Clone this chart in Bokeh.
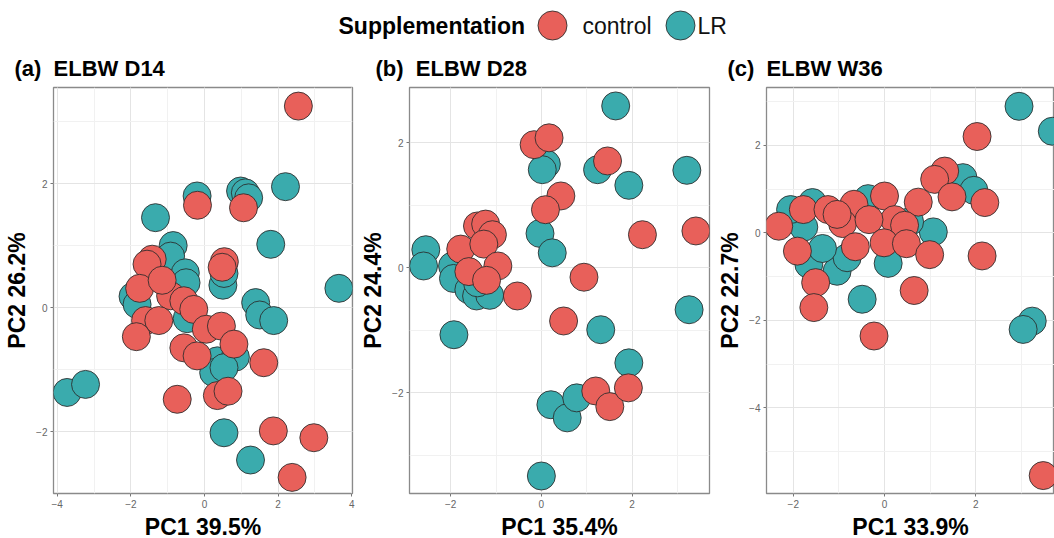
from bokeh.plotting import figure
from bokeh.layouts import column, row
from bokeh.models import Range1d, SingleIntervalTicker
from bokeh.embed import file_html
from bokeh.resources import INLINE
from bokeh.core.properties import value

FONT = "Liberation Sans"
RED = "#E8605A"
TEAL = "#3AABAD"

groups = ["control", "LR"]
group_colors = [RED, TEAL]

# ---- (a) ELBW D14 ----
d14_control_pc1 = [2.55, -0.19, 1.06, 0.54, 0.48, -1.42, -1.56, -1.76, -0.92, -1.15, -0.56, -0.29,
                   -1.60, -1.24, -1.85, 0.05, 0.46, 0.80, -0.56, -0.20, 1.61, -0.74, 0.35, 0.64,
                   1.87, 2.97, 2.38]
d14_control_pc2 = [3.25, 1.65, 1.61, 0.74, 0.65, 0.78, 0.70, 0.31, 0.19, 0.44, 0.11, -0.03,
                   -0.21, -0.21, -0.47, -0.35, -0.30, -0.59, -0.65, -0.78, -0.89, -1.48, -1.42, -1.35,
                   -1.99, -2.10, -2.74]
d14_lr_pc1 = [-0.20, -1.33, 0.98, 1.11, 1.20, 2.20, 1.80, 3.65, -0.85, -0.92, -0.52, -0.50,
              0.50, 0.53, 1.39, 1.50, 1.88, -1.94, -1.83, -0.47, 0.35, 0.25, 0.84, 0.53,
              -3.73, -3.23, 0.53, 1.25]
d14_lr_pc2 = [1.80, 1.45, 1.88, 1.85, 1.77, 1.95, 1.02, 0.31, 1.00, 0.83, 0.56, 0.40,
              0.36, 0.55, 0.08, -0.12, -0.21, 0.18, 0.05, -0.18, -0.86, -1.05, -0.80, -0.97,
              -1.37, -1.24, -2.02, -2.46]

# ---- (b) ELBW D28 ----
d28_control_pc1 = [-0.16, 0.17, 1.46, 0.43, 0.09, 2.23, 3.41, -1.41, -1.23, -1.08, -1.78, -1.27,
                   -1.60, -0.96, -1.21, -0.53, 0.94, 0.49, 1.20, 1.51, 1.92]
d28_control_pc2 = [1.97, 2.08, 1.71, 1.15, 0.93, 0.53, 0.59, 0.67, 0.70, 0.53, 0.30, 0.38,
                   -0.06, 0.03, -0.20, -0.45, -0.15, -0.85, -1.97, -2.22, -1.92]
d28_lr_pc1 = [1.64, 0.11, 0.02, 1.24, 1.93, 3.21, -0.03, 0.24, -2.55, -2.60, -1.96, -1.94,
              -1.60, -1.43, -1.14, -1.41, 3.26, -1.93, 1.31, 1.93, 0.21, 0.57, 0.78, 0.00]
d28_lr_pc2 = [2.59, 1.66, 1.57, 1.57, 1.32, 1.56, 0.55, 0.24, 0.29, 0.03, 0.03, -0.17,
              -0.35, -0.45, -0.44, -0.24, -0.67, -1.07, -0.99, -1.52, -2.19, -2.40, -2.08, -3.33]

# ---- (c) ELBW W36 ----
w36_control_pc1 = [2.03, 1.32, 1.10, 1.48, 2.20, 0.74, 0.00, 0.22, 0.44, -2.32, -1.78, -1.24,
                   -0.67, -0.92, -0.34, -1.04, -0.01, 0.48, -0.64, -1.91, 0.99, 2.14, -1.51, -1.55,
                   0.65, -0.23, 3.48]
w36_control_pc2 = [2.20, 1.41, 1.22, 0.82, 0.69, 0.70, 0.84, 0.30, 0.17, 0.15, 0.53, 0.53,
                   0.65, 0.21, 0.30, 0.42, -0.23, -0.25, -0.32, -0.42, -0.50, -0.53, -1.14, -1.71,
                   -1.32, -2.36, -5.55]
w36_lr_pc1 = [2.95, 3.68, 1.72, 1.96, 1.07, 0.08, -0.49, -1.04, -0.82, -1.66, -1.36, -1.77,
              -2.06, -1.58, -0.36, 0.55, 3.24, 3.04]
w36_lr_pc2 = [2.89, 2.32, 1.26, 0.97, 0.02, -0.70, -1.52, -0.88, -0.57, -0.72, -0.36, 0.13,
              0.53, 0.69, 0.78, 0.25, -2.02, -2.21]

tags = ["(a)", "(b)", "(c)"]
titles = ["ELBW D14", "ELBW D28", "ELBW W36"]
x_labels = ["PC1 39.5%", "PC1 35.4%", "PC1 33.9%"]
y_labels = ["PC2 26.2%", "PC2 24.4%", "PC2 22.7%"]
x_ranges = [(-4.10, 4.02), (-2.91, 3.71), (-2.588, 3.728)]
y_ranges = [(-3.00, 3.55), (-3.61, 2.885), (-5.96, 3.32)]
frame_widths = [299, 300, 288]
left_borders = [53, 52, 52]
right_borders = [5, 5, 0]
title_offsets = [-39, -34, -39]
NBSP = "\u00a0"


def make_panel(i, cx, cy, lx, ly):
    p = figure(frame_width=frame_widths[i], frame_height=406,
               x_range=Range1d(*x_ranges[i]), y_range=Range1d(*y_ranges[i]),
               output_backend="svg", toolbar_location=None,
               min_border_left=left_borders[i], min_border_right=right_borders[i],
               min_border_top=40, min_border_bottom=44)
    p.title.text = tags[i] + NBSP + NBSP + titles[i]
    p.title.text_font = FONT
    p.title.text_font_size = "22px"
    p.title.text_font_style = "bold"
    p.title.text_color = "black"
    p.title.offset = title_offsets[i]
    p.title.standoff = 13
    for ax in (p.xaxis[0], p.yaxis[0]):
        ax.ticker = SingleIntervalTicker(interval=2, num_minor_ticks=2)
        ax.axis_line_color = None
        ax.major_tick_in = 0
        ax.major_tick_out = 3
        ax.major_tick_line_color = "#777777"
        ax.minor_tick_line_color = None
        ax.major_label_text_font = FONT
        ax.major_label_text_font_size = "10px"
        ax.major_label_text_color = "#666666"
        ax.major_label_standoff = 2
        ax.axis_label_text_font = FONT
        ax.axis_label_text_font_size = "23px"
        ax.axis_label_text_font_style = "bold"
        ax.axis_label_text_color = "black"
        ax.axis_label_standoff = 3
    p.xaxis.axis_label = x_labels[i]
    p.yaxis.axis_label = y_labels[i]
    p.grid.grid_line_color = "#e4e4e4"
    p.grid.grid_line_width = 1
    p.grid.minor_grid_line_color = "#f1f1f1"
    p.outline_line_color = "#8a8a8a"
    p.outline_line_width = 1.3
    p.scatter(lx, ly, size=28, fill_color=group_colors[1], line_color="#2a2a2a",
              line_width=1, line_alpha=0.85)
    p.scatter(cx, cy, size=28, fill_color=group_colors[0], line_color="#2a2a2a",
              line_width=1, line_alpha=0.85)
    return p


pa = make_panel(0, d14_control_pc1, d14_control_pc2, d14_lr_pc1, d14_lr_pc2)
pb = make_panel(1, d28_control_pc1, d28_control_pc2, d28_lr_pc1, d28_lr_pc2)
pc = make_panel(2, w36_control_pc1, w36_control_pc2, w36_lr_pc1, w36_lr_pc2)

# ---- legend header ----
HDR_W = 1054
HDR_H = 47
hdr = figure(width=HDR_W, height=HDR_H, x_range=Range1d(0, HDR_W), y_range=Range1d(0, HDR_H),
             output_backend="svg", toolbar_location=None, min_border=0,
             x_axis_location=None, y_axis_location=None)
hdr.grid.visible = False
hdr.outline_line_color = None
legend_title_x = 338
key_x = [552, 680]
label_x = [582, 697]
row_y = 22
hdr.text(x=[legend_title_x], y=[row_y], text=["Supplementation"], text_font=value(FONT),
         text_font_size="23px", text_font_style="bold", text_baseline="middle", text_color="black")
hdr.scatter(key_x, [row_y, row_y], size=29, fill_color=group_colors, line_color="#2a2a2a",
            line_width=1, line_alpha=0.85)
hdr.text(x=label_x, y=[row_y, row_y], text=groups, text_font=value(FONT),
         text_font_size="23px", text_baseline="middle", text_color="#111111")

layout = column(hdr, row(pa, pb, pc, spacing=0), spacing=0)
open("out.html", "w").write(file_html(layout, INLINE))
